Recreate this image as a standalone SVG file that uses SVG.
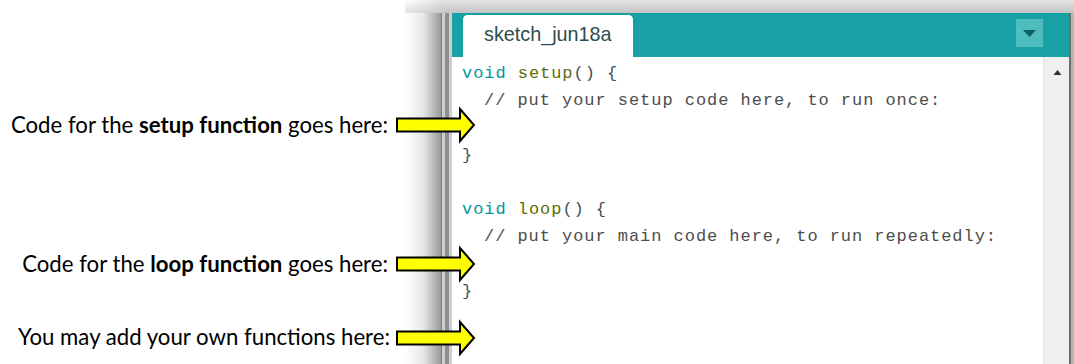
<svg xmlns="http://www.w3.org/2000/svg" width="1074" height="364" viewBox="0 0 1074 364">
  <defs>
    <linearGradient id="shadowLeft" x1="0" y1="0" x2="1" y2="0">
      <stop offset="0" stop-color="#ffffff"/>
      <stop offset="0.5" stop-color="#e8e8e8"/>
      <stop offset="1" stop-color="#9a9a9a"/>
    </linearGradient>
    <linearGradient id="shadowTop" x1="0" y1="0" x2="0" y2="1">
      <stop offset="0" stop-color="#e4e4e4"/>
      <stop offset="1" stop-color="#c4c4c4"/>
    </linearGradient>
    <linearGradient id="shadowCorner" x1="1" y1="1" x2="0" y2="0">
      <stop offset="0" stop-color="#c8c8c8"/>
      <stop offset="1" stop-color="#ffffff"/>
    </linearGradient>
    <path id="arrow" d="M0,-6.5 H63 V-16 L77,0 L63,16 V6.5 H0 Z"/>
    <style>
      .label { font-family: Lato, "Liberation Sans", sans-serif; font-size: 22.2px; fill: #000; }
      .label .b { font-weight: bold; }
      .code { font-family: "Liberation Mono", "DejaVu Sans Mono", monospace; font-size: 17px; letter-spacing: 0.95px; fill: #434f54; }
      .kw { fill: #00979c; }
      .fn { fill: #5e6d03; }
      .cm { fill: #4d4d4d; }
      .arrow { fill: #ffff00; stroke: #000; stroke-width: 2; stroke-linejoin: miter; }
      .tabtext { font-family: "Liberation Sans", Arial, sans-serif; font-size: 19.8px; fill: #2e4c4d; }
    </style>
  </defs>

  <rect width="1074" height="364" fill="#ffffff"/>

  <!-- window with shadow -->
  <g id="editor-window">
    <rect x="405" y="13" width="36" height="351" fill="url(#shadowLeft)"/>
    <rect x="441" y="0" width="633" height="13" fill="url(#shadowTop)"/>
    <rect x="405" y="0" width="36" height="13" fill="url(#shadowCorner)"/>
    <!-- left frame -->
    <rect x="441" y="13" width="11" height="351" fill="#cfcfcf"/>
    <rect x="445" y="13" width="4" height="351" fill="#8e8e8e"/>
    <rect x="441" y="13" width="1" height="351" fill="#7a7a7a"/>
    <!-- header -->
    <rect x="452" y="13" width="617" height="44" fill="#17a1a5"/>
    <!-- tab -->
    <path d="M463,57 V20 Q463,15 468,15 H628 Q633,15 633,20 V57 Z" fill="#ffffff"/>
    <text class="tabtext" x="484" y="41">sketch_jun18a</text>
    <!-- dropdown button -->
    <rect x="1016" y="19" width="27" height="28" fill="#4fbcbf"/>
    <path d="M1023,30 H1036 L1029.5,37 Z" fill="#0d5f63"/>
    <!-- editor area -->
    <rect x="452" y="57" width="591" height="307" fill="#ffffff"/>
    <!-- scrollbar -->
    <rect x="1043" y="57" width="26" height="307" fill="#efefef"/>
    <rect x="1043" y="57" width="1" height="307" fill="#e0e0e0"/>
    <path d="M1053.5,75 H1061.5 L1057.5,70 Z" fill="#333333"/>
    <!-- right frame -->
    <rect x="1069" y="13" width="5" height="351" fill="#b5b5b5"/>
    <rect x="1069" y="13" width="2" height="351" fill="#6f6f6f"/>
  </g>

  <g id="code">
    <text class="code" x="462" y="78"><tspan class="kw">void</tspan> <tspan class="fn">setup</tspan>() {</text>
    <text class="code cm" x="484" y="105">// put your setup code here, to run once:</text>
    <text class="code" x="462" y="159.6">}</text>
    <text class="code" x="462" y="214"><tspan class="kw">void</tspan> <tspan class="fn">loop</tspan>() {</text>
    <text class="code cm" x="484" y="241">// put your main code here, to run repeatedly:</text>
    <text class="code" x="462" y="295.6">}</text>
  </g>

  <g id="label-setup">
    <text class="label" x="388" y="133" text-anchor="end">Code for the <tspan class="b">setup function</tspan> goes here:</text>
  </g>
  <g id="label-loop">
    <text class="label" x="388" y="272" text-anchor="end">Code for the <tspan class="b">loop function</tspan> goes here:</text>
  </g>
  <g id="label-own">
    <text class="label" x="390" y="345" text-anchor="end">You may add your own functions here:</text>
  </g>

  <g id="connectors">
    <use href="#arrow" class="arrow" x="397" y="125"/>
    <use href="#arrow" class="arrow" x="397" y="264"/>
    <use href="#arrow" class="arrow" x="397" y="338"/>
  </g>
</svg>
